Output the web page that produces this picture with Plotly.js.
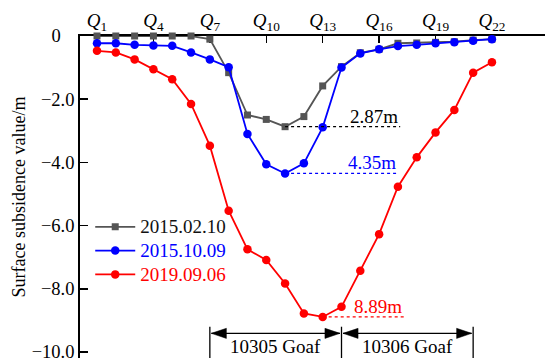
<!DOCTYPE html>
<html>
<head>
<meta charset="utf-8">
<script src="https://cdn.plot.ly/plotly-3.0.1.min.js"></script>
<style>html,body{margin:0;padding:0;background:#fff;}#chart{width:545px;height:358px;}</style>
</head>
<body>
<div id="chart"></div>
<script>
// Survey points Q1..Q22
var points = [1,2,3,4,5,6,7,8,9,10,11,12,13,14,15,16,17,18,19,20,21,22];
var seriesNames = ['2015.02.10', '2015.10.09', '2019.09.06'];
var s20150210 = [0, 0, 0, 0, 0, 0, -0.10, -1.16, -2.50, -2.64, -2.87, -2.55, -1.58, -0.97, -0.53, -0.42, -0.23, -0.22, -0.20, -0.18, -0.13, -0.10];
var s20151009 = [-0.23, -0.23, -0.28, -0.30, -0.31, -0.52, -0.74, -0.99, -3.10, -4.06, -4.35, -4.03, -2.89, -1.00, -0.55, -0.42, -0.32, -0.28, -0.23, -0.20, -0.15, -0.10];
var s20190906 = [-0.47, -0.52, -0.74, -1.05, -1.37, -2.15, -3.47, -5.53, -6.75, -7.09, -7.83, -8.78, -8.89, -8.57, -7.43, -6.27, -4.77, -3.84, -3.05, -2.34, -1.16, -0.83];
var maxLabels = ['2.87m', '4.35m', '8.89m'];
var xTickVals = [1,4,7,10,13,16,19,22];
var xTickText = ['1','4','7','10','13','16','19','22'];
var yTickVals = [0,-2,-4,-6,-8,-10];
var yTickText = ['0\u2007\u00a0','\u22122.0','\u22124.0','\u22126.0','\u22128.0','\u221210.0'];
var goafBounds = [7, 14, 21];
var goafNames = ['10305 Goaf', '10306 Goaf'];

var colors = ['#555555', '#0000ff', '#ff0000'];
var legendColors = ['#111111', '#0000ff', '#ff0000'];
var symbols = ['square', 'circle', 'circle'];
var msizes = [7, 8.5, 8.5];
var allSeries = [s20150210, s20151009, s20190906];
var labelEnds = [17.12, 17.0, 17.33];

var FONT = '"Liberation Serif", "Times New Roman", serif';

var traces = allSeries.map(function(s, i){
  return {
    x: points, y: s, type: 'scatter', mode: 'lines+markers',
    name: '<span style="color:' + legendColors[i] + ';font-size:19px">' + seriesNames[i] + '</span>',
    line: {color: colors[i], width: 1.8},
    marker: {symbol: symbols[i], size: msizes[i], color: colors[i]},
    cliponaxis: false
  };
});

var shapes = [];
var annotations = [];
allSeries.forEach(function(s, i){
  var mn = Math.min.apply(null, s);
  var xi = points[s.indexOf(mn)];
  shapes.push({type:'line', xref:'x', yref:'y', x0: xi, x1: labelEnds[i], y0: mn, y1: mn,
    line:{color: i === 0 ? '#000000' : colors[i], width: 1.3, dash:'dot'}});
  annotations.push({xref:'x', yref:'y', x: labelEnds[i], y: mn, text: maxLabels[i],
    showarrow:false, xanchor:'right', yanchor:'bottom', yshift: -2,
    font:{family: FONT, size: 19, color: i === 0 ? '#000000' : colors[i]}});
});

// goaf range markers
var yTop = -9.2, yBot = -10.25, yArr = -9.41, yTxt = -9.84;
var headLen = 0.8, headHalf = 0.16;
goafBounds.forEach(function(b){
  shapes.push({type:'line', xref:'x', yref:'y', x0:b, x1:b, y0:yTop, y1:yBot, line:{color:'#000', width:1.3}});
});
for (var g = 0; g < goafNames.length; g++) {
  var a = goafBounds[g] + 0.08, c = goafBounds[g+1] - 0.08;
  shapes.push({type:'line', xref:'x', yref:'y', x0:a, x1:c, y0:yArr, y1:yArr, line:{color:'#000', width:1.3}});
  shapes.push({type:'path', xref:'x', yref:'y', fillcolor:'#000', line:{color:'#000', width:0.5},
    path:'M'+a+','+yArr+' L'+(a+headLen)+','+(yArr+headHalf)+' L'+(a+headLen)+','+(yArr-headHalf)+' Z'});
  shapes.push({type:'path', xref:'x', yref:'y', fillcolor:'#000', line:{color:'#000', width:0.5},
    path:'M'+c+','+yArr+' L'+(c-headLen)+','+(yArr+headHalf)+' L'+(c-headLen)+','+(yArr-headHalf)+' Z'});
  annotations.push({xref:'x', yref:'y', x:(goafBounds[g]+goafBounds[g+1])/2, y:yTxt, text: goafNames[g],
    showarrow:false, xanchor:'center', yanchor:'middle', borderpad: 0,
    font:{family:FONT, size:19, color:'#000'}});
}

var layout = {
  width: 545, height: 358,
  margin: {l: 80, r: 0, t: 36, b: 0, pad: 0},
  paper_bgcolor: '#ffffff', plot_bgcolor: '#ffffff',
  font: {family: FONT, size: 18, color: '#000'},
  showlegend: true,
  legend: {x: 0.022, y: 0.46, xanchor: 'left', yanchor: 'top', bgcolor: 'rgba(0,0,0,0)',
    font: {family: FONT, size: 16, color: '#000'}, tracegroupgap: 0, itemwidth: 40},
  xaxis: {
    side: 'top', range: [0.096, 24.82], showline: true, linecolor: '#000', linewidth: 1.8,
    ticks: 'inside', ticklen: 7, tickwidth: 1.5, tickcolor: '#000',
    tickvals: xTickVals, ticktext: xTickText.map(function(t){ return '<i>Q</i><sub>' + t + '</sub>'; }),
    showgrid: false, zeroline: false, layer: 'below traces',
    tickfont: {family: FONT, size: 19, color: '#000'}
  },
  yaxis: {
    range: [-10.19, 0], showline: true, linecolor: '#000', linewidth: 1.8,
    ticks: 'inside', ticklen: 8, tickwidth: 1.5, tickcolor: '#000',
    tickvals: yTickVals, ticktext: yTickText, showgrid: false, zeroline: false, layer: 'below traces',
    ticklabeloverflow: 'allow',
    tickfont: {family: FONT, size: 18.5, color: '#000'},
    title: {text: 'Surface subsidence value/m', font: {family: FONT, size: 18, color: '#000'}, standoff: 1}
  },
  shapes: shapes,
  annotations: annotations
};

Plotly.newPlot('chart', traces, layout, {displayModeBar: false, staticPlot: true});
</script>
</body>
</html>
